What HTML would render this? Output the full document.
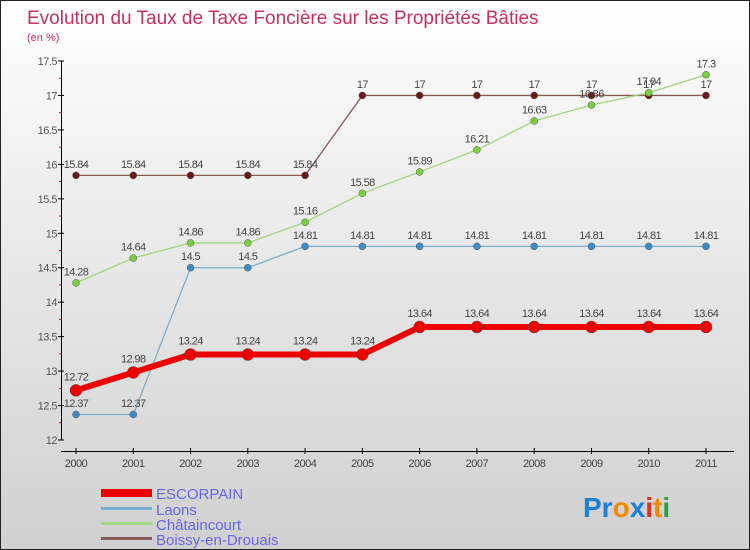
<!DOCTYPE html>
<html><head><meta charset="utf-8"><style>
body{margin:0}
#w{width:748px;height:548px;border:1px solid #222;background:linear-gradient(#ffffff,#f0f0f0 30%,#d0d0d0);position:relative;font-family:"Liberation Sans",sans-serif;overflow:hidden}
svg text{font-family:"Liberation Sans",sans-serif}
</style></head><body>
<div id="w">
<svg id="c" width="748" height="548">
<text x="26" y="23" font-size="19" fill="#c8315f">Evolution du Taux de Taxe Foncière sur les Propriétés Bâties</text>
<text x="26" y="40" font-size="11" fill="#c8315f">(en %)</text>
<g id="axes"></g><g id="series"></g>
<g>
<rect x="100" y="488" width="51" height="8" fill="#e00"/>
<text x="155" y="498" font-size="15" fill="#6666ee">ESCORPAIN</text>
<rect x="100" y="506" width="51" height="3" fill="#7aaed0"/>
<text x="155" y="514" font-size="15" fill="#6666ee">Laons</text>
<rect x="100" y="521" width="51" height="3" fill="#9fd67f"/>
<text x="155" y="529" font-size="15" fill="#6666ee">Châtaincourt</text>
<rect x="100" y="536" width="51" height="3" fill="#8a5a5a"/>
<text x="155" y="544" font-size="15" fill="#6666ee">Boissy-en-Drouais</text>
</g>
<g font-size="28" font-weight="bold">
<text x="582" y="516"><tspan fill="#1a7fd6">Pr</tspan><tspan fill="#f08a00">o</tspan><tspan fill="#1a7fd6">x</tspan><tspan fill="#e0301e">i</tspan><tspan fill="#f08a00">t</tspan><tspan fill="#2aa040">i</tspan></text>
</g>
</svg></div>
<script>
const years=[2000,2001,2002,2003,2004,2005,2006,2007,2008,2009,2010,2011];
const yTicks=[12,12.5,13,13.5,14,14.5,15,15.5,16,16.5,17,17.5];
const escorpain=[12.72,12.98,13.24,13.24,13.24,13.24,13.64,13.64,13.64,13.64,13.64,13.64];
const laons=[12.37,12.37,14.5,14.5,14.81,14.81,14.81,14.81,14.81,14.81,14.81,14.81];
const chataincourt=[14.28,14.64,14.86,14.86,15.16,15.58,15.89,16.21,16.63,16.86,17.04,17.3];
const boissy=[15.84,15.84,15.84,15.84,15.84,17,17,17,17,17,17,17];
const NS="http://www.w3.org/2000/svg";
const xs=i=>75+i*(630/11);
const ys=v=>439-(v-12)*(379/5.5);
function mk(t,a,p){const e=document.createElementNS(NS,t);for(const k in a)e.setAttribute(k,a[k]);p.appendChild(e);return e;}
const ax=document.getElementById('axes'),se=document.getElementById('series');
let l=mk('line',{x1:60.5,y1:ys(17.5),x2:60.5,y2:ys(12),stroke:'#000','stroke-width':1},ax);

l=mk('line',{x1:60,y1:450.5,x2:733,y2:450.5,stroke:'#000','stroke-width':1},ax);

yTicks.forEach((v,i)=>{const y=ys(v);mk('line',{x1:57,x2:63,y1:y,y2:y,stroke:'#000'},ax);
 if(i<yTicks.length-1){const y2=ys(v+0.25);mk('line',{x1:58,x2:61,y1:y2,y2:y2,stroke:'#e00'},ax);}
 const t=mk('text',{x:56,y:y+4,'font-size':11,fill:'#555','text-anchor':'end','letter-spacing':'-0.5'},ax);t.textContent=v;
 });
years.forEach((yr,i)=>{const x=xs(i);mk('line',{x1:x,x2:x,y1:447,y2:453,stroke:'#000'},ax);
 const t=mk('text',{x:x,y:466,'font-size':11,fill:'#444','text-anchor':'middle','letter-spacing':'-0.5'},ax);t.textContent=yr;
 });
function series(name,data,color,dot,w,r){
 const g=mk('g',{},se);
 const p=mk('polyline',{points:data.map((v,i)=>xs(i)+','+ys(v)).join(' '),fill:'none',stroke:color,'stroke-width':w},g);
 
 data.forEach((v,i)=>{const c=mk('circle',{cx:xs(i),cy:ys(v),r:r,fill:dot,stroke:'#555','stroke-width':0.5},g);
  
  const t=mk('text',{x:xs(i),y:ys(v)-r-4,'font-size':11,fill:'#444','text-anchor':'middle','letter-spacing':'-0.6'},g);t.textContent=v;
  });
}
series('boissy',boissy,'#8a5a5a','#6b1a1a',1.3,3.5);
series('chataincourt',chataincourt,'#9fd67f','#7bcf3f',1.3,3.5);
series('laons',laons,'#7aaed0','#3d8cc8',1.3,3.5);
series('escorpain',escorpain,'#e00','#e00',6,6);
</script>
</body></html>
